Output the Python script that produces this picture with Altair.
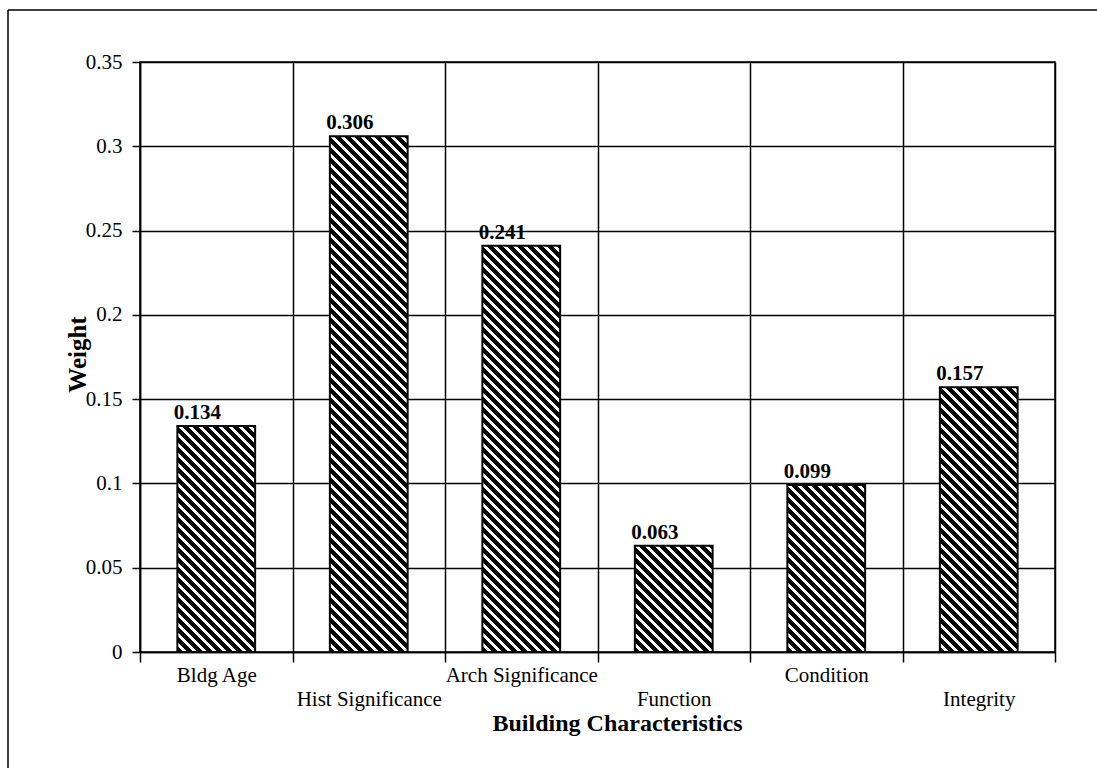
import altair as alt
import pandas as pd

# Chart data
categories = ["Bldg Age", "Hist Significance", "Arch Significance",
              "Function", "Condition", "Integrity"]
weights = [0.134, 0.306, 0.241, 0.063, 0.099, 0.157]
y_ticks = [0, 0.05, 0.1, 0.15, 0.2, 0.25, 0.3, 0.35]
lower_row = ["Hist Significance", "Function", "Integrity"]  # labels set on a second line

# Layout
W, H = 915, 590
Y_MAX = 0.35
BAR_FRAC = 0.51
FONT = "Liberation Serif"

df = pd.DataFrame({"category": categories, "weight": weights})


def hatch(value, period=10.0, ink=5.8):
    """Diagonal black/white stripes as a hard-stop linear gradient,
    sized to one bar's bounding box so the stripes run at 45 degrees."""
    w = W / len(categories) * BAR_FRAC
    h = value / Y_MAX * H
    span = w + h
    c = span / (w * w + h * h)
    stops = []
    pos = 0.0
    while pos < span:
        a = pos / span
        b = min(pos + ink, span) / span
        e = min(pos + period, span) / span
        stops += [
            {"offset": a, "color": "black"},
            {"offset": b, "color": "black"},
            {"offset": b, "color": "white"},
            {"offset": e, "color": "white"},
        ]
        pos += period
    return {"gradient": "linear", "x1": 0, "y1": 1,
            "x2": c * w, "y2": 1 - c * h, "stops": stops}


lower_list = ",".join("'" + s + "'" for s in lower_row)
x_label_expr = f"indexof([{lower_list}], datum.label) >= 0 ? ['', datum.label] : datum.label"

x_enc = alt.X(
    "category:N",
    sort=categories,
    scale=alt.Scale(paddingInner=0, paddingOuter=0),
    axis=alt.Axis(
        title="Building Characteristics",
        titleFont=FONT, titleFontSize=24, titleFontWeight="bold", titleColor="black",
        titleX=477, titleY=71, titleAlign="center", titleBaseline="middle",
        labelAngle=0, labelFont=FONT, labelFontSize=21, labelColor="black",
        labelBaseline="top", labelPadding=2, labelLineHeight=24,
        labelExpr=x_label_expr, labelOverlap=False, labelLimit=400,
        tickBand="extent", tickSize=10, tickColor="black", tickWidth=1.5,
        grid=True, gridColor="black", gridWidth=1.5, gridOpacity=1,
        domainColor="black", domainWidth=1.5,
    ),
)

y_enc = alt.Y(
    "weight:Q",
    scale=alt.Scale(domain=[0, Y_MAX], nice=False),
    axis=alt.Axis(
        values=y_ticks, format=".2~f",
        title="Weight",
        titleFont=FONT, titleFontSize=25, titleFontWeight="bold", titleColor="black",
        titleAngle=270, titleX=-63, titleY=292, titleAlign="center", titleBaseline="middle",
        labelFont=FONT, labelFontSize=21, labelColor="black", labelPadding=10,
        tickSize=8, tickColor="black", tickWidth=1.5,
        grid=True, gridColor="black", gridWidth=1.5, gridOpacity=1,
        domainColor="black", domainWidth=1.5,
    ),
)

layers = []

# Outer frame around the figure
frame = pd.DataFrame({"k": [0]})
layers.append(
    alt.Chart(frame).mark_rule(color="black", strokeWidth=1.5).encode(
        x=alt.value(-132), x2=alt.value(W + 200), y=alt.value(-52))
)
layers.append(
    alt.Chart(frame).mark_rule(color="black", strokeWidth=1.5).encode(
        x=alt.value(-132), y=alt.value(-52), y2=alt.value(H + 300))
)

# One hatched bar per category
for cat, val in zip(categories, weights):
    layers.append(
        alt.Chart(df)
        .transform_filter(alt.datum.category == cat)
        .mark_bar(fill=hatch(val), stroke="black", strokeWidth=2,
                  width=alt.RelativeBandSize(BAR_FRAC))
        .encode(x=x_enc, y=y_enc)
    )

# Value labels above the bars
layers.append(
    alt.Chart(df).mark_text(
        font=FONT, fontSize=21, fontWeight="bold", color="black",
        align="center", baseline="alphabetic", dx=-19, dy=-7,
    ).encode(x=x_enc, y=y_enc, text=alt.Text("weight:Q", format=".3f"))
)

chart = (
    alt.layer(*layers)
    .properties(
        width=W, height=H,
        autosize=alt.AutoSizeParams(type="none"),
        padding={"left": 140, "top": 62, "right": 42, "bottom": 116},
        background="white",
    )
    .configure_view(stroke="black", strokeWidth=1.5)
)

chart.save("out.html", embed_options={"renderer": "svg", "actions": False})
